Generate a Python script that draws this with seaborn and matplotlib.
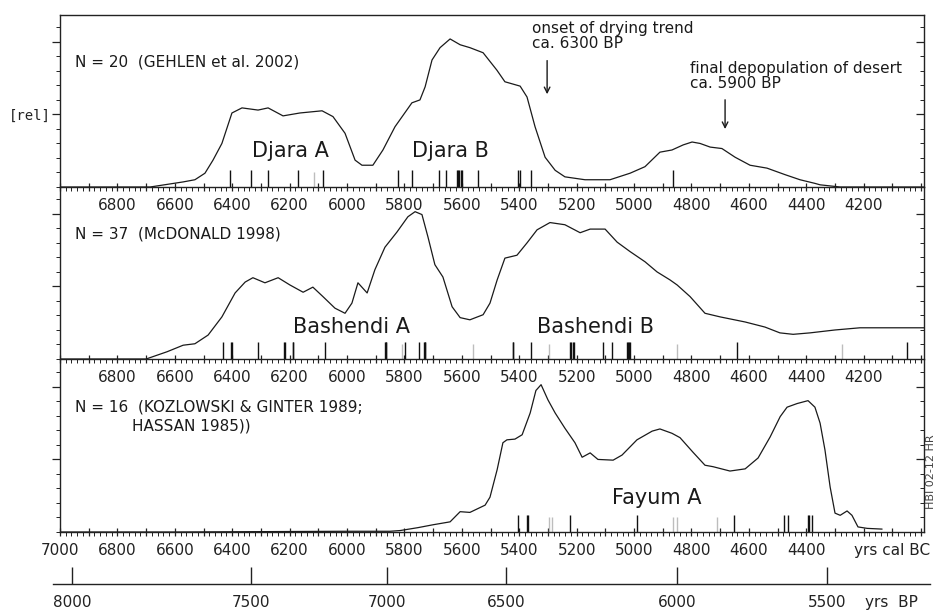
import numpy as np
import pandas as pd
import matplotlib
matplotlib.use("Agg")
import matplotlib.pyplot as plt
from matplotlib.ticker import MultipleLocator, FuncFormatter, FixedLocator, FixedFormatter
import seaborn as sns

# -----------------------------
# Data
# -----------------------------
djara_x = [7000, 6686, 6571, 6530, 6495, 6467, 6436, 6401, 6366, 6310,
           6275, 6223, 6164, 6087, 6049, 6007, 5972, 5948, 5910, 5875,
           5833, 5774, 5746, 5728, 5704, 5676, 5641, 5606, 5572, 5526,
           5478, 5450, 5397, 5373, 5345, 5310, 5275, 5241, 5171, 5084,
           5014, 4962, 4910, 4868, 4829, 4798, 4770, 4735, 4694, 4648,
           4596, 4537, 4474, 4422, 4370, 4352, 4282, 3990]
djara_y = [0, 0, 0.07, 0.10, 0.19, 0.37, 0.60, 1.02, 1.09, 1.06,
           1.09, 0.98, 1.02, 1.05, 0.97, 0.74, 0.37, 0.30, 0.30, 0.51,
           0.83, 1.16, 1.20, 1.38, 1.75, 1.92, 2.04, 1.96, 1.92, 1.85,
           1.61, 1.45, 1.39, 1.24, 0.83, 0.41, 0.23, 0.14, 0.10, 0.10,
           0.19, 0.28, 0.48, 0.51, 0.58, 0.62, 0.60, 0.55, 0.53, 0.41,
           0.30, 0.26, 0.17, 0.10, 0.05, 0.03, 0, 0]

bash_x = [7000, 6700, 6627, 6571, 6530, 6484, 6436, 6390, 6355, 6328,
          6286, 6240, 6199, 6153, 6119, 6084, 6042, 6007, 5983, 5962,
          5930, 5903, 5868, 5826, 5788, 5763, 5739, 5718, 5694, 5666,
          5634, 5606, 5572, 5526, 5502, 5477, 5450, 5408, 5373, 5338,
          5293, 5241, 5188, 5153, 5101, 5059, 5014, 4962, 4920, 4875,
          4850, 4805, 4753, 4700, 4613, 4544, 4492, 4446, 4387, 4300,
          4213, 3990]
bash_y = [0, 0, 0.10, 0.19, 0.21, 0.33, 0.58, 0.91, 1.06, 1.12,
          1.05, 1.12, 1.02, 0.92, 0.99, 0.86, 0.70, 0.63, 0.77, 1.05,
          0.91, 1.23, 1.54, 1.75, 1.96, 2.03, 1.99, 1.68, 1.30, 1.13,
          0.72, 0.57, 0.54, 0.61, 0.77, 1.09, 1.39, 1.43, 1.60, 1.78,
          1.88, 1.85, 1.74, 1.79, 1.79, 1.61, 1.48, 1.34, 1.20, 1.09,
          1.02, 0.86, 0.63, 0.58, 0.51, 0.44, 0.36, 0.34, 0.36, 0.40,
          0.43, 0.43]

fayum_x = [7000, 6600, 6000, 5850, 5815, 5753, 5700, 5641, 5606, 5572,
           5519, 5502, 5477, 5457, 5443, 5415, 5390, 5362, 5342, 5324,
           5300, 5275, 5241, 5206, 5181, 5153, 5126, 5073, 5042, 4990,
           4937, 4910, 4868, 4840, 4795, 4753, 4725, 4666, 4613, 4568,
           4526, 4491, 4467, 4432, 4394, 4370, 4352, 4335, 4317, 4300,
           4282, 4258, 4241, 4220, 4188, 4136]
fayum_y = [0, 0, 0.01, 0.01, 0.02, 0.06, 0.10, 0.14, 0.28, 0.27,
           0.37, 0.48, 0.86, 1.23, 1.27, 1.28, 1.34, 1.64, 1.95, 2.03,
           1.82, 1.64, 1.43, 1.23, 1.03, 1.09, 1.00, 0.99, 1.06, 1.27,
           1.39, 1.42, 1.36, 1.30, 1.10, 0.92, 0.90, 0.84, 0.87, 1.02,
           1.31, 1.59, 1.72, 1.77, 1.81, 1.72, 1.50, 1.13, 0.62, 0.26,
           0.23, 0.29, 0.23, 0.07, 0.05, 0.04]

# single dates (cal BC), dark and faint
djara_dates = [6408, 6336, 6276, 6170, 6083, 5821, 5775, 5679, 5655, 5616,
               5612, 5609, 5604, 5598, 5543, 5403, 5397, 5359, 4863]
djara_faint = [6115]
bash_dates = [6431, 6404, 6402, 6311, 6220, 6216, 6189, 6187, 6077, 5868,
              5866, 5864, 5798, 5748, 5732, 5730, 5728, 5423, 5421, 5360,
              5223, 5220, 5214, 5209, 5110, 5078, 5026, 5020, 5018, 5014,
              4642, 4050]
bash_faint = [5807, 5560, 5295, 4851, 4277]
fayum_dates = [5405, 5373, 5371, 5223, 4991, 4652, 4478, 4463, 4393, 4391, 4379]
fayum_faint = [5295, 5287, 4863, 4851, 4710]

# BP scale: labels and their position on the cal BC axis
bp_labels = ["8000", "7500", "7000", "6500", "6000", "5500"]
bp_pos = [6958, 6335, 5861, 5446, 4850, 4328]

panels = [
    dict(x=djara_x, y=djara_y, dates=djara_dates, faint=djara_faint,
         title="N = 20  (GEHLEN et al. 2002)",
         phases=[("Djara A", 6198), ("Djara B", 5640)], phase_y=0.50),
    dict(x=bash_x, y=bash_y, dates=bash_dates, faint=bash_faint,
         title="N = 37  (McDONALD 1998)",
         phases=[("Bashendi A", 5983), ("Bashendi B", 5133)], phase_y=0.44),
    dict(x=fayum_x, y=fayum_y, dates=fayum_dates, faint=fayum_faint,
         title="N = 16  (KOZLOWSKI & GINTER 1989;",
         phases=[("Fayum A", 4920)], phase_y=0.47),
]

# -----------------------------
# Style
# -----------------------------
sns.set_style("ticks")
plt.rcParams["font.family"] = ["DejaVu Sans"]

W, H = 939, 611
fig = plt.figure(figsize=(W / 100, H / 100), dpi=100)

left = 60 / W
width = (924 - 60) / W
ph = 172 / H
bottoms = [1 - 187 / H, 1 - 359 / H, 1 - 532 / H]

XMIN, XMAX = 7000, 3990
YMAX = 2.37


def top_fmt(v, pos):
    v = int(round(v))
    if v % 200 == 0 and 4200 <= v <= 6800:
        return str(v)
    return ""


def bottom_fmt(v, pos):
    v = int(round(v))
    if v == 4100:
        return "yrs cal BC"
    if v % 200 == 0 and 4400 <= v <= 7000:
        return str(v)
    return ""


axes = []
for i, p in enumerate(panels):
    ax = fig.add_axes([left, bottoms[i], width, ph])
    ax.patch.set_visible(False)
    df = pd.DataFrame({"calBC": p["x"], "rel": p["y"]})
    sns.lineplot(data=df, x="calBC", y="rel", ax=ax, color="#1a1a1a",
                 linewidth=0.9, sort=False, solid_joinstyle="round")

    # single dates
    ax.vlines(p["dates"], 0.0, 0.23, color="#111111", linewidth=1.0)
    ax.vlines(p["faint"], 0.0, 0.21, color="#bdbdbd", linewidth=1.0)

    ax.set_xlim(XMIN, XMAX)
    ax.set_ylim(0, YMAX)
    ax.set_xlabel("")
    ax.set_ylabel("")

    for s in ax.spines.values():
        s.set_linewidth(1.0)
        s.set_color("#222222")
    if i > 0:
        ax.spines["top"].set_visible(False)

    ax.xaxis.set_major_locator(MultipleLocator(100))
    ax.xaxis.set_minor_locator(MultipleLocator(20))
    ax.xaxis.set_major_formatter(FuncFormatter(bottom_fmt if i == 2 else top_fmt))
    ax.tick_params(axis="x", which="major", direction="inout", length=6,
                   width=0.9, labelsize=11, pad=5, colors="#222222")
    ax.tick_params(axis="x", which="minor", direction="out", length=3,
                   width=0.7, colors="#222222")

    ax.yaxis.set_major_locator(FixedLocator([1, 2]))
    ax.yaxis.set_minor_locator(MultipleLocator(0.2))
    if i == 0:
        ax.yaxis.set_major_formatter(FixedFormatter(["[rel]", ""]))
    else:
        ax.yaxis.set_major_formatter(FixedFormatter(["", ""]))
    ax.tick_params(axis="y", which="major", direction="out", length=6,
                   width=0.9, labelsize=10, pad=1, colors="#222222")
    ax.tick_params(axis="y", which="minor", direction="out", length=3,
                   width=0.7, colors="#222222")
    for lab in ax.get_yticklabels():
        lab.set_family("DejaVu Sans Mono")

    # right side ticks pointing inwards
    axr = ax.twinx()
    axr.set_ylim(0, YMAX)
    axr.yaxis.set_major_locator(FixedLocator([1, 2]))
    axr.yaxis.set_minor_locator(MultipleLocator(0.2))
    axr.tick_params(axis="y", which="major", direction="in", length=6,
                    width=0.9, labelright=False, colors="#222222")
    axr.tick_params(axis="y", which="minor", direction="in", length=3,
                    width=0.7, colors="#222222")
    for s in axr.spines.values():
        s.set_visible(False)

    # texts
    ax.text(6948, 1.72, p["title"], fontsize=11, ha="left", va="center",
            color="#1a1a1a")
    for name, xpos in p["phases"]:
        ax.text(xpos, p["phase_y"], name, fontsize=15, ha="center",
                va="center", color="#1a1a1a")
    axes.append(ax)

ax1, ax2, ax3 = axes

ax3.text(6749, 1.46, "HASSAN 1985))", fontsize=11, ha="left", va="center",
         color="#1a1a1a")

# annotations on the top panel
ax1.text(5356, 2.08, "onset of drying trend\nca. 6300 BP", fontsize=11,
         ha="left", va="center", linespacing=1.0, color="#1a1a1a")
ax1.annotate("", xy=(5303, 1.24), xytext=(5303, 1.78),
             arrowprops=dict(arrowstyle="->", color="#1a1a1a", lw=1.0))
ax1.text(4805, 1.53, "final depopulation of desert\nca. 5900 BP", fontsize=11,
         ha="left", va="center", linespacing=1.0, color="#1a1a1a")
ax1.annotate("", xy=(4683, 0.76), xytext=(4683, 1.24),
             arrowprops=dict(arrowstyle="->", color="#1a1a1a", lw=1.0))

# -----------------------------
# BP scale below
# -----------------------------
axb = fig.add_axes([53 / W, 1 - 584 / H, (930 - 53) / W, 0.0001])
axb.patch.set_visible(False)
axb.set_xlim(7024, 3969)
axb.set_yticks([])
for s in ["left", "right", "top"]:
    axb.spines[s].set_visible(False)
axb.spines["bottom"].set_linewidth(1.0)
axb.spines["bottom"].set_color("#222222")
axb.xaxis.set_major_locator(FixedLocator(bp_pos + [4105]))
axb.xaxis.set_major_formatter(FixedFormatter(bp_labels + ["yrs  BP"]))
axb.tick_params(axis="x", direction="in", length=12, width=1.0, labelsize=11,
                pad=8, colors="#222222")
axb.xaxis.get_major_ticks()[-1].tick1line.set_visible(False)

fig.text(931.5 / W, 1 - 472 / H, "HBI 02-12 HR", rotation=90, fontsize=8,
         ha="center", va="center", color="#444444")

fig.savefig("out.png", dpi=100, facecolor="white")
